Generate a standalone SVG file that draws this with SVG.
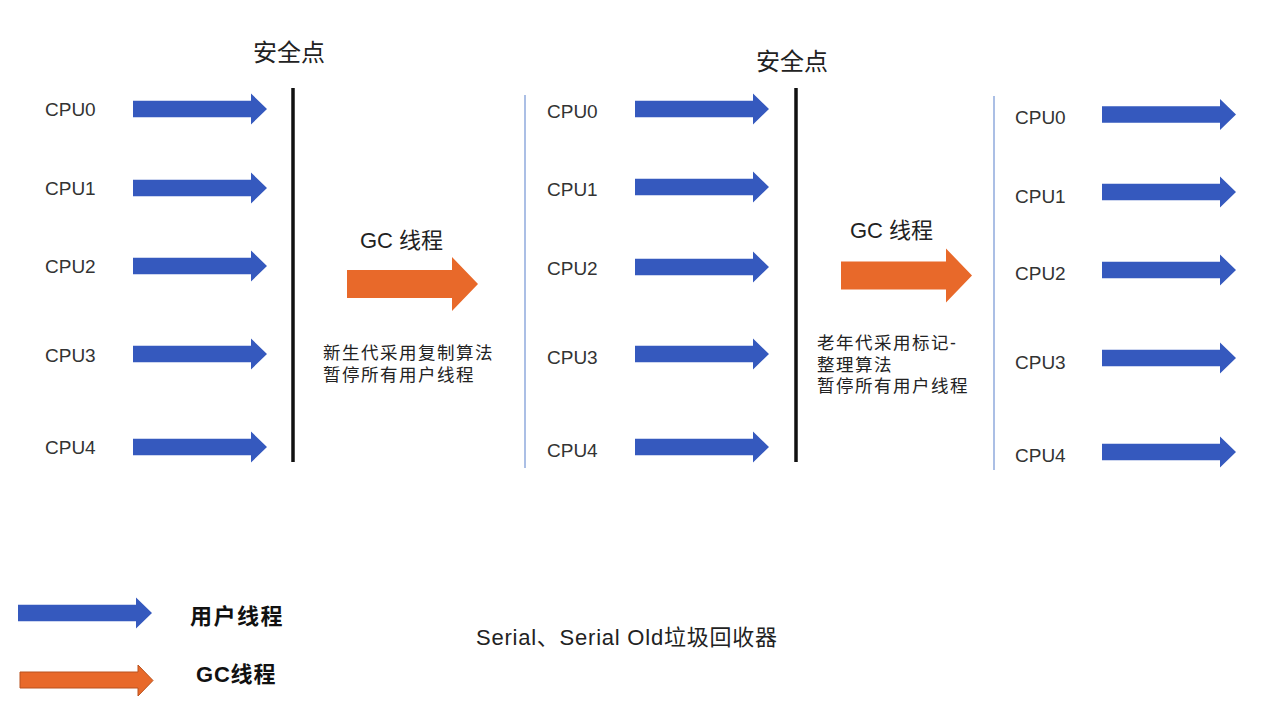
<svg xmlns="http://www.w3.org/2000/svg" xmlns:xlink="http://www.w3.org/1999/xlink" width="1274" height="702" viewBox="0 0 1274 702">
<style>
.cpu{font-family:"Liberation Sans","Noto Sans CJK SC",sans-serif;font-size:19px;fill:#333}
.hd{font-family:"Noto Sans CJK SC","Liberation Sans",sans-serif;font-size:24px;fill:#222}
.gc{font-family:"Liberation Sans","Noto Sans CJK SC",sans-serif;font-size:22px;fill:#222}
.desc{font-family:"Liberation Sans","Noto Sans CJK SC",sans-serif;font-size:17.5px;letter-spacing:1.5px;fill:#222}
.leg{font-family:"Liberation Sans","Noto Sans CJK SC",sans-serif;font-size:22px;font-weight:bold;fill:#111}
.title{font-family:"Liberation Sans","Noto Sans CJK SC",sans-serif;font-size:22px;fill:#222}
.blue{fill:#3559BE}
.orange{fill:#E8692A}
.safe{stroke:#111;stroke-width:3.5}
.thin{stroke:#8FAADC;stroke-width:1.5}
</style>
<defs>
<path id="ua" d="M0,-8.3 H118 V-15.5 L134,0 L118,15.5 V8.3 H0 Z"/>
<path id="ga" d="M0,-14 H105 V-27 L131,0 L105,27 V14 H0 Z"/>
</defs>
<rect width="1274" height="702" fill="#fff"/>
<g id="connectors">
<line class="safe" x1="293" y1="88" x2="293" y2="462"/>
<line class="thin" x1="525" y1="95" x2="525" y2="468"/>
<line class="safe" x1="796" y1="88" x2="796" y2="462"/>
<line class="thin" x1="994" y1="96" x2="994" y2="470"/>
</g>
<g id="safepoint1"><text class="hd" x="289" y="61" text-anchor="middle">安全点</text></g>
<g id="safepoint2"><text class="hd" x="792" y="70" text-anchor="middle">安全点</text></g>
<g id="col1">
<text class="cpu" x="45" y="116">CPU0</text><use href="#ua" class="blue" x="133" y="109"/>
<text class="cpu" x="45" y="195">CPU1</text><use href="#ua" class="blue" x="133" y="188"/>
<text class="cpu" x="45" y="273">CPU2</text><use href="#ua" class="blue" x="133" y="266"/>
<text class="cpu" x="45" y="362">CPU3</text><use href="#ua" class="blue" x="133" y="354"/>
<text class="cpu" x="45" y="454">CPU4</text><use href="#ua" class="blue" x="133" y="447"/>
</g>
<g id="col2">
<text class="cpu" x="547" y="118">CPU0</text><use href="#ua" class="blue" x="635" y="109"/>
<text class="cpu" x="547" y="196">CPU1</text><use href="#ua" class="blue" x="635" y="187"/>
<text class="cpu" x="547" y="275">CPU2</text><use href="#ua" class="blue" x="635" y="267"/>
<text class="cpu" x="547" y="364">CPU3</text><use href="#ua" class="blue" x="635" y="354"/>
<text class="cpu" x="547" y="457">CPU4</text><use href="#ua" class="blue" x="635" y="447"/>
</g>
<g id="col3">
<text class="cpu" x="1015" y="124">CPU0</text><use href="#ua" class="blue" x="1102" y="114.5"/>
<text class="cpu" x="1015" y="203">CPU1</text><use href="#ua" class="blue" x="1102" y="192"/>
<text class="cpu" x="1015" y="280">CPU2</text><use href="#ua" class="blue" x="1102" y="270"/>
<text class="cpu" x="1015" y="369">CPU3</text><use href="#ua" class="blue" x="1102" y="358"/>
<text class="cpu" x="1015" y="462">CPU4</text><use href="#ua" class="blue" x="1102" y="452"/>
</g>
<g id="gc1">
<text class="gc" x="360" y="248">GC 线程</text>
<use href="#ga" class="orange" x="347" y="284"/>
<text class="desc" x="323" y="359">新生代采用复制算法</text>
<text class="desc" x="323" y="381">暂停所有用户线程</text>
</g>
<g id="gc2">
<text class="gc" x="850" y="238">GC 线程</text>
<use href="#ga" class="orange" x="841" y="275.5"/>
<text class="desc" x="817" y="349">老年代采用标记-</text>
<text class="desc" x="817" y="370.5">整理算法</text>
<text class="desc" x="817" y="392">暂停所有用户线程</text>
</g>
<g id="legend-user">
<use href="#ua" class="blue" x="18" y="613"/>
<text class="leg" x="190" y="624" letter-spacing="1.5">用户线程</text>
</g>
<g id="legend-gc">
<path d="M20,672 H138 V665 L153,680.5 L138,696 V688 H20 Z" class="orange" stroke="#B9531E" stroke-width="1"/>
<text class="leg" x="196" y="682" letter-spacing="0.8">GC线程</text>
</g>
<g id="title">
<text class="title" x="476" y="645" textLength="301" lengthAdjust="spacing">Serial、Serial Old垃圾回收器</text>
</g>
</svg>
